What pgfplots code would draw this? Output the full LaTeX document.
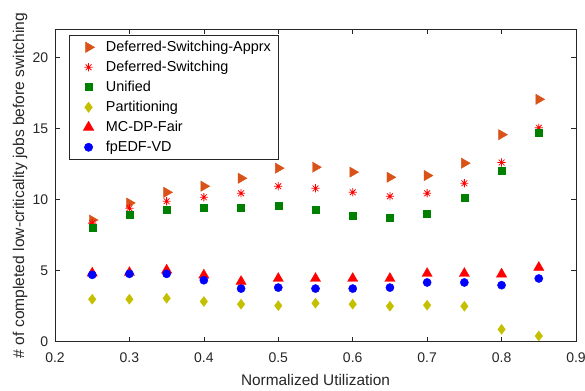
\documentclass[border=0pt]{standalone}
\usepackage{fontspec}
\setmainfont{Liberation Sans}
\usepackage{pgfplots}
\pgfplotsset{compat=1.18}
\usetikzlibrary{calc}
\definecolor{cOrange}{RGB}{217,83,25}
\definecolor{cRed}{RGB}{255,0,0}
\definecolor{cGreen}{RGB}{0,128,0}
\definecolor{cYellow}{RGB}{196,192,0}
\definecolor{cBlue}{RGB}{0,0,255}
\definecolor{axgray}{RGB}{38,38,38}
\pgfdeclareplotmark{ast8}{%
  \pgfpathmoveto{\pgfqpoint{-\pgfplotmarksize}{0pt}}\pgfpathlineto{\pgfqpoint{\pgfplotmarksize}{0pt}}%
  \pgfpathmoveto{\pgfqpoint{0pt}{-\pgfplotmarksize}}\pgfpathlineto{\pgfqpoint{0pt}{\pgfplotmarksize}}%
  \pgfpathmoveto{\pgfqpoint{-0.707\pgfplotmarksize}{-0.707\pgfplotmarksize}}\pgfpathlineto{\pgfqpoint{0.707\pgfplotmarksize}{0.707\pgfplotmarksize}}%
  \pgfpathmoveto{\pgfqpoint{-0.707\pgfplotmarksize}{0.707\pgfplotmarksize}}\pgfpathlineto{\pgfqpoint{0.707\pgfplotmarksize}{-0.707\pgfplotmarksize}}%
  \pgfusepathqstroke}
\begin{document}
\fontsize{14bp}{16bp}\selectfont
\begin{tikzpicture}
\begin{axis}[
  scale only axis,
  width=521bp, height=312.4bp,
  xmin=0.2, xmax=0.9, ymin=0, ymax=22,
  xtick={0.2,0.3,...,0.9},
  ytick={0,5,10,15,20},
  xticklabel style={/pgf/number format/fixed,/pgf/number format/precision=1,
     anchor=center, yshift=-16.3bp},
  yticklabel style={anchor=east, inner sep=0bp, xshift=-6.7bp},
  /pgf/number format/assume math mode=true,
  tick align=inside, tick pos=both,
  major tick length=5bp,
  axis line style={axgray, line width=0.6bp},
  every tick/.style={axgray, line width=0.6bp},
  tick label style={font=\fontsize{14bp}{16bp}\selectfont, color=axgray},
  xlabel style={font=\fontsize{15.4bp}{17bp}\selectfont, color=axgray,
     at={(axis description cs:0.5,0)}, anchor=center, yshift=-37.8bp},
  ylabel style={font=\fontsize{15.6bp}{17bp}\selectfont, color=axgray,
     at={(axis description cs:-0.0672,0.5)}, anchor=center},
  xlabel={Normalized Utilization},
  ylabel={\# of completed low-criticality jobs before switching},
  only marks,
  legend cell align=left,
  legend image code/.code={%
    \path[draw=none, fill=none] (0bp,-4bp) rectangle (29.4bp,4bp);
    \draw[mark repeat=2,mark phase=2,#1] plot coordinates {(0bp,0bp) (12bp,0bp) (24bp,0bp)};},
  legend style={at={(0.0274,0.981)}, anchor=north west, draw=axgray, line width=0.6bp,
    font=\fontsize{14.4bp}{16bp}\selectfont, row sep=6.5bp, column sep=0bp,
    inner xsep=7bp, inner ysep=5bp,
    nodes={inner xsep=0bp, inner ysep=0bp, text height=10.5bp, text depth=3bp}},
]
\addplot[mark=triangle*, mark size=5.9bp, mark options={rotate=-90, fill=cOrange, draw=cOrange}, color=cOrange] coordinates {
(0.25,8.57) (0.3,9.77) (0.35,10.52) (0.4,10.95) (0.45,11.51) (0.5,12.22) (0.55,12.29)
(0.6,11.94) (0.65,11.58) (0.7,11.7) (0.75,12.57) (0.8,14.58) (0.85,17.07)};
\addlegendentry{Deferred-Switching-Apprx}
\addplot[mark=ast8, mark size=4.1bp, color=cRed, mark options={line width=0.8bp}] coordinates {
(0.25,8.35) (0.3,9.4) (0.35,9.89) (0.4,10.17) (0.45,10.45) (0.5,10.95) (0.55,10.8)
(0.6,10.52) (0.65,10.24) (0.7,10.45) (0.75,11.16) (0.8,12.62) (0.85,15.07)};
\addlegendentry{Deferred-Switching}
\addplot[mark=square*, mark size=3.5bp, color=cGreen, mark options={fill=cGreen}] coordinates {
(0.25,8.0) (0.3,8.92) (0.35,9.28) (0.4,9.42) (0.45,9.42) (0.5,9.56) (0.55,9.28)
(0.6,8.85) (0.65,8.71) (0.7,9.0) (0.75,10.17) (0.8,12.05) (0.85,14.72)};
\addlegendentry{Unified}
\addplot[mark=diamond*, mark size=5bp, color=cYellow, mark options={fill=cYellow}] coordinates {
(0.25,2.99) (0.3,2.99) (0.35,3.06) (0.4,2.83) (0.45,2.64) (0.5,2.54) (0.55,2.71)
(0.6,2.64) (0.65,2.5) (0.7,2.57) (0.75,2.5) (0.8,0.87) (0.85,0.40)};
\addlegendentry{Partitioning}
\addplot[mark=triangle*, mark size=5.9bp, color=cRed, mark options={fill=cRed}] coordinates {
(0.25,4.83) (0.3,4.87) (0.35,5.04) (0.4,4.69) (0.45,4.24) (0.5,4.45) (0.55,4.45)
(0.6,4.45) (0.65,4.45) (0.7,4.8) (0.75,4.8) (0.8,4.76) (0.85,5.23)};
\addlegendentry{MC-DP-Fair}
\addplot[mark=*, mark size=4.1bp, color=cBlue, mark options={fill=cBlue}] coordinates {
(0.25,4.71) (0.3,4.78) (0.35,4.78) (0.4,4.33) (0.45,3.74) (0.5,3.81) (0.55,3.74)
(0.6,3.74) (0.65,3.81) (0.7,4.17) (0.75,4.17) (0.8,3.98) (0.85,4.45)};
\addlegendentry{fpEDF-VD}
\end{axis}
\pgfresetboundingbox
\path ($(current axis.south west)+(-55bp,-49.3bp)$) rectangle ($(current axis.north east)+(9bp,29.3bp)$);
\end{tikzpicture}
\end{document}
